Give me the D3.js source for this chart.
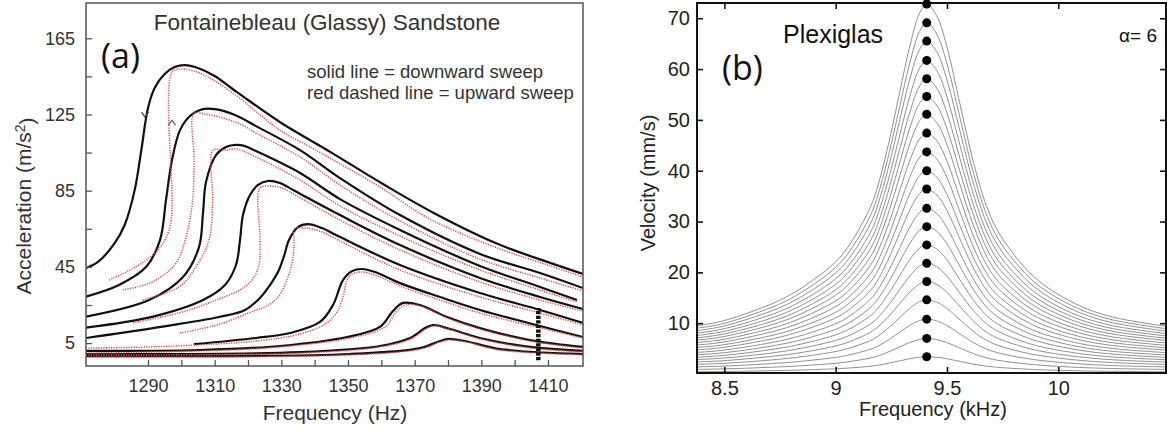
<!DOCTYPE html>
<html>
<head>
<meta charset="utf-8">
<script src="https://cdn.jsdelivr.net/npm/d3@7"></script>
<style>
  body { margin: 0; background: #fff; }
  svg { display: block; }
  text { font-family: "Liberation Sans", Arial, sans-serif; }
</style>
</head>
<body>
<svg id="chart" width="1167" height="434"></svg>
<script>
// ---------- panel (a): Fontainebleau sandstone ----------
var freqTicksA = [1290, 1300, 1310, 1320, 1330, 1340, 1350, 1360, 1370, 1380, 1390, 1400, 1410];
var freqLabelsA = [1290, 1310, 1330, 1350, 1370, 1390, 1410];
var accTicksA = [5, 25, 45, 65, 85, 105, 125, 145, 165];
var accLabelsA = [5, 45, 85, 125, 165];

// solid black = downward sweep, [frequency Hz, acceleration m/s2]
var downSweeps = [
  [[1271.4,44.4],[1275,47.6],[1280,57.5],[1283,67],[1286,85.3],[1288,106.3],[1290,128.4],[1292,138.9],[1295,146.2],[1298,149.9],[1301,150.9],[1305,149.4],[1310,145.2],[1315,138.9],[1320,132.6],[1330,120.5],[1345,105],[1360,89],[1375,74],[1395,57],[1410,47.5],[1420.5,41.3]],
  [[1271.4,29.4],[1281.3,35.5],[1289.4,44.9],[1293.6,59.1],[1295.4,80.1],[1297.2,101.1],[1299.6,116.8],[1302.6,124.2],[1306.5,127.8],[1310.1,127.8],[1316.1,124.7],[1322.4,118.9],[1335.6,106.3],[1347.6,91.6],[1365.6,72.2],[1389.6,51.8],[1407.6,41.8],[1420.5,33.9]],
  [[1271.4,18.9],[1290.3,27.6],[1300.5,39.7],[1305.3,55.4],[1306.5,73.3],[1307.4,89.5],[1310.4,103.7],[1313.4,107.9],[1316.4,109],[1319.1,108.4],[1322.4,105.8],[1335.6,94.3],[1347.6,80.6],[1365.6,64.4],[1389.6,45.5],[1407.6,34.5],[1418.7,27.6]],
  [[1271.4,13.1],[1291.5,18.9],[1306.5,27.6],[1313.1,35.5],[1316.4,46],[1317.6,59.1],[1318.5,72.2],[1320.6,82.7],[1323,88],[1326,90.1],[1329.6,89],[1334.1,84.8],[1347.6,72.2],[1365.6,56.5],[1389.6,39.2],[1407.6,29.2],[1420.5,22.9]],
  [[1271.4,7.7],[1291.5,12.9],[1311.3,18.7],[1319.1,22.4],[1323.6,28.7],[1326.6,35.5],[1329,42.3],[1330.8,50.7],[1332.3,59.1],[1335,65.9],[1338,67.5],[1342.2,65.4],[1347,61.2],[1365.6,46],[1389.6,31.3],[1407.6,22.4],[1420.5,15.6]],
  [[1303.8,4.5],[1322.4,7.7],[1332.6,10.3],[1341.6,16.1],[1345.5,25],[1348.5,38.1],[1351.2,42.8],[1354.2,43.9],[1358.1,42.3],[1365.6,36.5],[1377.6,29.2],[1389.6,22.4],[1407.6,14],[1420.5,8.2]],
  [[1271.4,0.9],[1305.6,1.4],[1329.6,3.5],[1349.7,8.2],[1359.6,13.5],[1363.5,21.9],[1366.5,26.1],[1371.6,25],[1379.7,18.7],[1389.6,12.9],[1404.6,6.6],[1420.5,3]],
  [[1271.4,-0.7],[1335.6,0.3],[1359.6,3.5],[1368.6,7.7],[1373.1,12.9],[1375.5,14.5],[1380.6,12.4],[1389.6,7.7],[1404.6,3],[1420.5,0.9]],
  [[1271.4,-1.8],[1350.6,-0.7],[1371.6,2.4],[1377.6,6.1],[1380,7.2],[1385.1,6.1],[1395.6,1.9],[1420.5,-0.7]]
];

// red dotted = upward sweep
var upSweeps = [
  [[1278.3,38.1],[1284,42.8],[1289.1,48.1],[1293,53.9],[1295.4,60.2],[1296.9,68.6],[1297.2,80.1],[1297.2,147.3],[1299.6,148.8],[1302.6,148.3],[1305.6,146.7],[1310.1,142.5],[1317.6,133.5],[1322.4,126.5],[1329.9,116.3],[1337.7,108.9],[1344.6,102.1],[1359.6,86.9],[1374.6,70.1],[1395.6,54.4],[1410,46],[1420.5,39.7]],
  [[1282.4,32.9],[1291.4,37.2],[1298.4,47],[1301.4,60.7],[1303.4,80.1],[1303.8,101.1],[1303.8,125.7],[1307.1,125.2],[1311.6,123.6],[1317.6,120],[1322.4,115.3],[1335.6,102.7],[1347.6,88],[1365.6,69.1],[1389.6,49.1],[1407.6,39.2],[1420.5,32.4]],
  [[1288.4,27.6],[1299.3,34.5],[1304.4,45],[1308.3,59.1],[1309.4,80.1],[1309.5,106.3],[1313.1,106.3],[1316.4,106.9],[1322.4,102.7],[1335.6,90.6],[1347.6,77],[1365.6,61.2],[1389.6,43.4],[1407.6,32.9],[1418.7,26.6]],
  [[1285.5,15.6],[1301.4,21.9],[1311.3,28.2],[1317.6,32.9],[1321.2,38.1],[1323.3,46],[1323.6,59.1],[1323.6,86.4],[1326.6,87.4],[1330.2,86.4],[1334.7,82.2],[1347.6,69.6],[1365.6,53.9],[1389.6,37.1],[1407.6,27.6],[1420.5,21.9]],
  [[1299.6,10.3],[1311.6,15],[1322.4,22.4],[1325.1,24],[1329,29.2],[1332,39.7],[1333.5,50.2],[1333.8,59.1],[1333.8,64.9],[1337.1,65.4],[1342.2,63.3],[1347,59.1],[1365.6,43.4],[1389.6,29.2],[1407.6,20.8],[1420.5,14.5]],
  [[1271.4,2.4],[1290.6,3],[1303.8,4],[1322.4,6.1],[1335.6,9.8],[1343.1,15],[1346.7,21.3],[1348.5,29.2],[1349.7,38.1],[1351.2,41.3],[1354.2,42.3],[1358.1,40.7],[1365.6,35],[1377.6,27.6],[1389.6,20.8],[1407.6,13],[1420.5,7.7]],
  [[1271.4,-0.2],[1305.6,0.9],[1329.6,3],[1350.6,7.7],[1361.1,13.5],[1364.4,21.3],[1367.1,25],[1371.6,24.5],[1379.7,18.2],[1389.6,12.4],[1404.6,6.1],[1420.5,2.4]],
  [[1271.4,-1.2],[1335.6,-0.2],[1359.6,3],[1368.9,7.2],[1373.4,12.4],[1375.8,14],[1380.9,11.9],[1389.6,7.2],[1404.6,2.5],[1420.5,0.4]],
  [[1271.4,-2.3],[1350.6,-1.2],[1371.6,1.9],[1377.6,5.6],[1380.3,6.7],[1385.4,5.6],[1395.6,1.4],[1420.5,-1.2]]
];

var markerFreq = 1407.1;          // black dashed bar near the right edge
var markerRange = [-4, 23.5];
var downArrowAt = [1289.1, 123.6]; // "v" on the solid curve
var upArrowAt = [1297.2, 122];     // "^" on the dotted jump

// ---------- panel (b): Plexiglas ----------
var freqTicksB = [8.5, 9, 9.5, 10];
var velTicksB = [10, 20, 30, 40, 50, 60, 70];
var peakFreqB = 9.409;
var peakVelB = [3.4, 7.0, 10.8, 14.6, 18.2, 21.8, 25.4, 29.0, 32.6, 36.4, 40.0, 43.7, 47.4, 51.1, 54.6, 58.1, 61.7, 65.5, 69.1, 72.8];
// outer (largest) curve, the others follow the same shape
var plexiFreq = [8.377, 8.48, 8.63, 8.78, 8.93, 9.02, 9.078, 9.13, 9.167, 9.199, 9.244, 9.288, 9.333, 9.377, 9.409, 9.454, 9.499, 9.559, 9.617, 9.678, 9.73, 9.796, 9.87, 9.949, 10.097, 10.245, 10.484];
var plexiTopVel = [9.5, 10.3, 12.4, 15.2, 19.5, 23, 26.5, 30.5, 34, 38.5, 46.5, 55.5, 64.5, 71, 72.8, 70.5, 64.5, 53, 42, 33, 28, 23.8, 20, 17.1, 13.4, 11.2, 9.4];

var svg = d3.select("#chart");

// ===================== panel (a) =====================
var boxA = {left: 86, right: 583, top: 3, bottom: 366};
var xA = d3.scaleLinear().domain([1271.4, 1420.5]).range([boxA.left, boxA.right]);
var yA = d3.scaleLinear().domain([-7, 183.5]).range([boxA.bottom, boxA.top]);

svg.append("clipPath").attr("id", "clipA")
  .append("rect")
    .attr("x", boxA.left).attr("y", boxA.top)
    .attr("width", boxA.right - boxA.left).attr("height", boxA.bottom - boxA.top);

var lineA = d3.line()
    .x(function(d) { return xA(d[0]); })
    .y(function(d) { return yA(d[1]); })
    .curve(d3.curveCatmullRom.alpha(0.5));

var curvesA = svg.append("g").attr("clip-path", "url(#clipA)");

curvesA.selectAll(".down")
  .data(downSweeps)
  .enter().append("path")
    .attr("class", "down")
    .attr("d", lineA)
    .attr("fill", "none")
    .attr("stroke", "#111")
    .attr("stroke-width", 2.2);

curvesA.selectAll(".up")
  .data(upSweeps)
  .enter().append("path")
    .attr("class", "up")
    .attr("d", lineA)
    .attr("fill", "none")
    .attr("stroke", "#e24a48")
    .attr("stroke-width", 1.5)
    .attr("stroke-dasharray", "1.2,1.3");

// dashed marker bar
curvesA.append("line")
    .attr("x1", xA(markerFreq)).attr("x2", xA(markerFreq))
    .attr("y1", yA(markerRange[0])).attr("y2", yA(markerRange[1]))
    .attr("stroke", "#111")
    .attr("stroke-width", 4.5)
    .attr("stroke-dasharray", "3.2,1.4");

// little sweep-direction arrows
svg.append("path")
    .attr("d", "M" + (xA(downArrowAt[0]) - 3.5) + "," + (yA(downArrowAt[1]) - 5) +
               "L" + xA(downArrowAt[0]) + "," + yA(downArrowAt[1]) +
               "L" + (xA(downArrowAt[0]) + 3.5) + "," + (yA(downArrowAt[1]) - 5))
    .attr("fill", "none").attr("stroke", "#444").attr("stroke-width", 1.2);
svg.append("path")
    .attr("d", "M" + (xA(upArrowAt[0]) - 3.5) + "," + (yA(upArrowAt[1]) + 5) +
               "L" + xA(upArrowAt[0]) + "," + yA(upArrowAt[1]) +
               "L" + (xA(upArrowAt[0]) + 3.5) + "," + (yA(upArrowAt[1]) + 5))
    .attr("fill", "none").attr("stroke", "#555").attr("stroke-width", 1.2);

// axes (ticks point inward)
var axA_x = svg.append("g")
    .attr("transform", "translate(0," + boxA.bottom + ")")
    .call(d3.axisBottom(xA).tickValues(freqTicksA).tickSize(-6).tickPadding(13)
      .tickFormat(function(d) { return freqLabelsA.indexOf(d) >= 0 ? d : ""; }));
var axA_y = svg.append("g")
    .attr("transform", "translate(" + boxA.left + ",0)")
    .call(d3.axisLeft(yA).tickValues(accTicksA).tickSize(-6).tickPadding(11)
      .tickFormat(function(d) { return accLabelsA.indexOf(d) >= 0 ? d : ""; }));
[axA_x, axA_y].forEach(function(g) {
  g.select(".domain").remove();
  g.selectAll(".tick line").attr("stroke", "#555").attr("stroke-width", 1.3);
  g.selectAll(".tick text").attr("fill", "#333")
    .style("font-size", "18px").style("font-family", "'Liberation Sans', Arial, sans-serif");
});

svg.append("rect")
    .attr("x", boxA.left).attr("y", boxA.top)
    .attr("width", boxA.right - boxA.left).attr("height", boxA.bottom - boxA.top)
    .attr("fill", "none").attr("stroke", "#555").attr("stroke-width", 1.5);

// texts
svg.append("text").attr("x", 327).attr("y", 30).attr("text-anchor", "middle")
    .attr("fill", "#333").style("font-size", "22.5px")
    .text("Fontainebleau (Glassy) Sandstone");
svg.append("text").attr("x", 101).attr("y", 68)
    .style("font-family", "'Open Sans', sans-serif").style("font-size", "34px").attr("fill", "#111")
    .text("(a)");
svg.append("text").attr("x", 307).attr("y", 78).attr("fill", "#333").style("font-size", "18.5px")
    .text("solid line = downward sweep");
svg.append("text").attr("x", 307).attr("y", 99).attr("fill", "#333").style("font-size", "18.5px")
    .text("red dashed line = upward sweep");
svg.append("text").attr("x", 335).attr("y", 420).attr("text-anchor", "middle")
    .attr("fill", "#333").style("font-size", "21px")
    .text("Frequency (Hz)");
var accLabel = svg.append("text")
    .attr("transform", "translate(31,206) rotate(-90)")
    .attr("text-anchor", "middle").attr("fill", "#333").style("font-size", "21px");
accLabel.append("tspan").text("Acceleration (m/s");
accLabel.append("tspan").attr("dy", "-0.45em").style("font-size", "14px").text("2");
accLabel.append("tspan").attr("dy", "0.45em").text(")");

// ===================== panel (b) =====================
var boxB = {left: 697, right: 1166, top: 3, bottom: 373};
var xB = d3.scaleLinear().domain([8.377, 10.484]).range([boxB.left, boxB.right]);
var yB = d3.scaleLinear().domain([0.2, 73]).range([boxB.bottom, boxB.top]);

svg.append("clipPath").attr("id", "clipB")
  .append("rect")
    .attr("x", boxB.left).attr("y", boxB.top)
    .attr("width", boxB.right - boxB.left).attr("height", boxB.bottom - boxB.top);

var lineB = d3.line()
    .x(function(d) { return xB(d[0]); })
    .y(function(d) { return yB(d[1]); })
    .curve(d3.curveCatmullRom.alpha(0.5));

var topPeak = plexiTopVel[plexiFreq.indexOf(peakFreqB)];
var curvesB = peakVelB.map(function(p) {
  return plexiFreq.map(function(f, i) { return [f, plexiTopVel[i] * p / topPeak]; });
});

svg.append("g").attr("clip-path", "url(#clipB)")
  .selectAll("path")
  .data(curvesB)
  .enter().append("path")
    .attr("d", lineB)
    .attr("fill", "none")
    .attr("stroke", "#858585")
    .attr("stroke-width", 0.9);

var axB_bottom = svg.append("g")
    .attr("transform", "translate(0," + boxB.bottom + ")")
    .call(d3.axisBottom(xB).tickValues(freqTicksB).tickSize(-6).tickPadding(8)
      .tickFormat(function(d) { return d; }));
var axB_top = svg.append("g")
    .attr("transform", "translate(0," + boxB.top + ")")
    .call(d3.axisTop(xB).tickValues(freqTicksB).tickSize(-6).tickFormat(""));
var axB_left = svg.append("g")
    .attr("transform", "translate(" + boxB.left + ",0)")
    .call(d3.axisLeft(yB).tickValues(velTicksB).tickSize(-6).tickPadding(7));
var axB_right = svg.append("g")
    .attr("transform", "translate(" + boxB.right + ",0)")
    .call(d3.axisRight(yB).tickValues(velTicksB).tickSize(-6).tickFormat(""));
[axB_bottom, axB_top, axB_left, axB_right].forEach(function(g) {
  g.select(".domain").remove();
  g.selectAll(".tick line").attr("stroke", "#111").attr("stroke-width", 1.6);
  g.selectAll(".tick text").attr("fill", "#222")
    .style("font-size", "20px").style("font-family", "'Liberation Sans', Arial, sans-serif");
});

svg.append("rect")
    .attr("x", boxB.left).attr("y", boxB.top)
    .attr("width", boxB.right - boxB.left).attr("height", boxB.bottom - boxB.top)
    .attr("fill", "none").attr("stroke", "#111").attr("stroke-width", 2);

// resonance peak dots
svg.selectAll(".peak")
  .data(peakVelB)
  .enter().append("circle")
    .attr("class", "peak")
    .attr("cx", xB(peakFreqB))
    .attr("cy", function(d) { return yB(d); })
    .attr("r", 4.5)
    .attr("fill", "#000");

svg.append("text").attr("x", 783).attr("y", 43).attr("fill", "#111").style("font-size", "25px")
    .text("Plexiglas");
svg.append("text").attr("x", 722).attr("y", 80)
    .style("font-family", "'Open Sans', sans-serif").style("font-size", "34px").attr("fill", "#111")
    .text("(b)");
svg.append("text").attr("x", 1157).attr("y", 42).attr("text-anchor", "end")
    .attr("fill", "#111").style("font-size", "19px")
    .text("α= 6");
svg.append("text").attr("x", 933).attr("y", 416).attr("text-anchor", "middle")
    .attr("fill", "#222").style("font-size", "20px")
    .text("Frequency (kHz)");
svg.append("text")
    .attr("transform", "translate(655,183) rotate(-90)")
    .attr("text-anchor", "middle").attr("fill", "#222").style("font-size", "20px")
    .text("Velocity (mm/s)");
</script>
</body>
</html>
